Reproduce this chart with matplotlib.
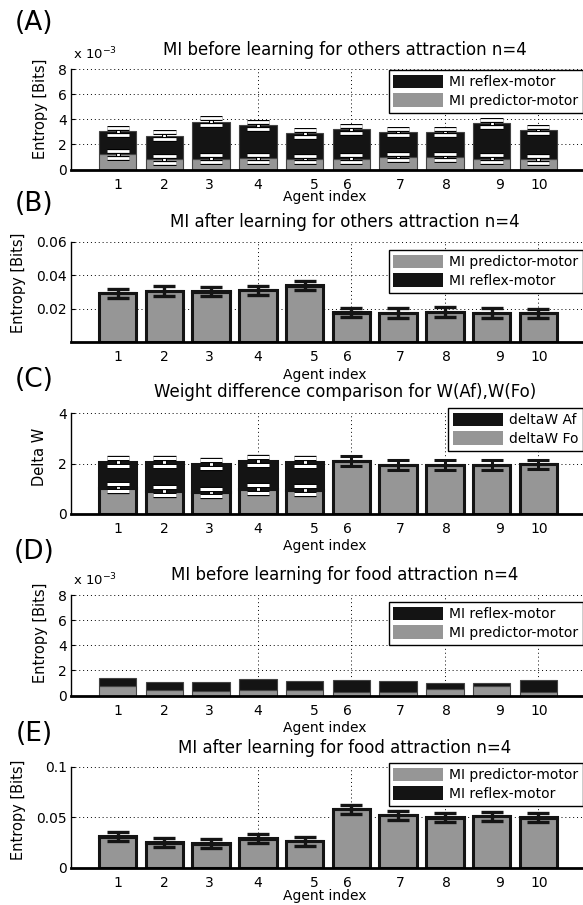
import numpy as np
import matplotlib
matplotlib.use("Agg")
import matplotlib.pyplot as plt
import matplotlib.patheffects as pe
from matplotlib.patches import Patch

W, H = 583, 905

agents = np.arange(1, 11)
tick_labels = [str(i) for i in agents]
# tick labels are not exactly under the bars in the original
label_shift = [0, 0, -0.03, -0.01, 0.2, -0.08, 0.04, 0.03, 0.18, 0.02]

GREY = "#969696"
BLACK = "#141414"

# (A) MI before learning, others attraction (x 1e-3)
a_pred = [1.20, 0.82, 0.85, 0.90, 0.83, 0.85, 0.99, 0.99, 0.85, 0.80]
a_reflex = [1.84, 1.87, 2.96, 2.62, 2.05, 2.35, 2.00, 2.00, 2.83, 2.35]
a_pred_err = [0.29, 0.27, 0.27, 0.27, 0.27, 0.27, 0.27, 0.27, 0.27, 0.27]
a_reflex_err = [0.29, 0.28, 0.28, 0.28, 0.27, 0.27, 0.27, 0.27, 0.27, 0.27]

# (B) MI after learning, others attraction
b_pred = [0.0292, 0.0305, 0.0300, 0.0310, 0.0337, 0.0176, 0.0173, 0.0180, 0.0173, 0.0171]
b_reflex = [0.0003, 0.0003, 0.0003, 0.0003, 0.0003, 0.0002, 0.0002, 0.0002, 0.0002, 0.0002]
b_pred_err = [0.0027, 0.0028, 0.0027, 0.0027, 0.0027, 0.0028, 0.0028, 0.0028, 0.0028, 0.0028]

# (C) weight difference
c_fo = [1.04, 0.91, 0.85, 0.98, 0.94, 2.10, 1.95, 1.95, 1.95, 1.97]
c_af = [1.03, 1.16, 1.13, 1.13, 1.14, 0, 0, 0, 0, 0]
c_fo_err = [0.15, 0.15, 0.15, 0.15, 0.15, 0.20, 0.19, 0.19, 0.19, 0.19]
c_af_err = [0.16, 0.16, 0.15, 0.17, 0.16, 0, 0, 0, 0, 0]

# (D) MI before learning, food attraction (x 1e-3)
d_pred = [0.78, 0.40, 0.34, 0.47, 0.45, 0.31, 0.31, 0.53, 0.74, 0.26]
d_reflex = [0.64, 0.70, 0.73, 0.81, 0.73, 0.92, 0.87, 0.49, 0.28, 0.97]

# (E) MI after learning, food attraction
e_pred = [0.0306, 0.0246, 0.0238, 0.0285, 0.0258, 0.0576, 0.0516, 0.0496, 0.0506, 0.0496]
e_reflex = [0.0003, 0.0003, 0.0003, 0.0003, 0.0003, 0.0003, 0.0003, 0.0003, 0.0003, 0.0003]
e_pred_err = [0.0047, 0.0045, 0.0044, 0.0046, 0.0044, 0.0047, 0.0046, 0.0045, 0.0046, 0.0045]


def fx(x):
    return x / W


def fy(y):
    return 1 - y / H


fig = plt.figure(figsize=(W / 100, H / 100), dpi=100)


def make_axes(top, bottom, ylim, yticks, yticklabels):
    ax = fig.add_axes([fx(71), fy(bottom), fx(585) - fx(71), (bottom - top) / H])
    ax.set_xlim(0, 11)
    ax.set_ylim(*ylim)
    ax.set_yticks(yticks)
    ax.set_yticklabels(yticklabels, fontsize=10)
    ax.set_xticks(agents + np.array(label_shift))
    ax.set_xticklabels(tick_labels, fontsize=10)
    ax.set_xticks([2, 4, 6, 8, 10], minor=True)
    ax.tick_params(axis="x", which="both", length=0, pad=6)
    ax.tick_params(axis="y", direction="in", length=3, pad=3)
    ax.grid(True, axis="y", linestyle=(0, (1, 3)), color="k", linewidth=0.7)
    ax.grid(True, axis="x", which="minor", linestyle=(0, (1, 3)), color="k", linewidth=0.7)
    ax.set_axisbelow(True)
    for s in ["top", "right"]:
        ax.spines[s].set_visible(False)
    ax.spines["bottom"].set_linewidth(2)
    ax.spines["left"].set_linewidth(1)
    return ax


def err(ax, x, y, e, color, lw=2):
    eb = ax.errorbar(x, y, yerr=e, fmt="none", ecolor=color, elinewidth=lw,
                     capsize=8, capthick=lw, zorder=5)
    if color == "white":
        effects = [pe.Stroke(linewidth=lw + 1.6, foreground="k"), pe.Normal()]
        for ln in eb.lines[1]:
            ln.set_path_effects(effects)
        for lc in eb.lines[2]:
            lc.set_path_effects(effects)
    return eb


def texts(label, letter, title, title_y, xlab_y, ylab, ylab_x, ylab_y):
    fig.text(fx(34), fy(letter), label, fontsize=19, ha="center", va="center")
    fig.text(fx(345), fy(title_y), title, fontsize=12, ha="center", va="center")
    fig.text(fx(325), fy(xlab_y), "Agent index", fontsize=10, ha="center", va="center")
    fig.text(fx(ylab_x), fy(ylab_y), ylab, fontsize=10.5, ha="center", va="center",
             rotation=90)


def legend(ax, colors, labels, top):
    handles = [Patch(facecolor=c, edgecolor="none") for c in colors]
    ax.legend(handles, labels, loc="upper right", bbox_to_anchor=(fx(583), fy(top)),
              bbox_transform=fig.transFigure, fontsize=10, fancybox=False,
              edgecolor="k", framealpha=1, handlelength=3.6, handleheight=1.1,
              handletextpad=0.4, labelspacing=0.3, borderpad=0.35, borderaxespad=0)


# ---- (A)
axA = make_axes(69.3, 169.5, (0, 8), [0, 2, 4, 6, 8], ["0", "2", "4", "6", "8"])
axA.bar(agents, a_pred, 0.8, color=GREY, edgecolor="#444444", linewidth=0.8)
axA.bar(agents, a_reflex, 0.8, bottom=a_pred, color=BLACK, edgecolor="#444444", linewidth=0.8)
err(axA, agents, a_pred, a_pred_err, "white")
err(axA, agents, np.add(a_pred, a_reflex), a_reflex_err, "white")
legend(axA, [BLACK, GREY], ["MI reflex-motor", "MI predictor-motor"], 70)
fig.text(fx(73), fy(62), r"x 10$^{-3}$", fontsize=9.5, ha="left", va="bottom")
texts("(A)", 23, "MI before learning for others attraction n=4", 50, 197,
      "Entropy [Bits]", 40, 109)

# ---- (B)
axB = make_axes(241.7, 342, (0, 0.06), [0.02, 0.04, 0.06], ["0.02", "0.04", "0.06"])
axB.bar(agents, b_pred, 0.8, color=GREY, edgecolor=BLACK, linewidth=2.2)
axB.bar(agents, b_reflex, 0.8, bottom=b_pred, color=BLACK, edgecolor=BLACK, linewidth=2.2)
err(axB, agents, b_pred, b_pred_err, BLACK, lw=2.4)
legend(axB, [GREY, BLACK], ["MI predictor-motor", "MI reflex-motor"], 250)
texts("(B)", 204, "MI after learning for others attraction n=4", 222, 375,
      "Entropy [Bits]", 19, 283)

# ---- (C)
axC = make_axes(413.3, 513.8, (0, 4), [0, 2, 4], ["0", "2", "4"])
axC.bar(agents, c_fo, 0.8, color=GREY, edgecolor=BLACK, linewidth=2.2)
axC.bar(agents, c_af, 0.8, bottom=c_fo, color=BLACK, edgecolor=BLACK, linewidth=2.2)
for i in range(len(agents)):
    col = "white" if c_af[i] > 0 else BLACK
    err(axC, [agents[i]], [c_fo[i]], [c_fo_err[i]], col, lw=2.2)
    if c_af_err[i] > 0:
        err(axC, [agents[i]], [c_fo[i] + c_af[i]], [c_af_err[i]], "white", lw=2.2)
legend(axC, [BLACK, GREY], ["deltaW Af", "deltaW Fo"], 408)
texts("(C)", 380, "Weight difference comparison for W(Af),W(Fo)", 392, 546,
      "Delta W", 40, 457)

# ---- (D)
axD = make_axes(595, 695.5, (0, 8), [0, 2, 4, 6, 8], ["0", "2", "4", "6", "8"])
axD.bar(agents, d_pred, 0.8, color=GREY, edgecolor="#444444", linewidth=0.8)
axD.bar(agents, d_reflex, 0.8, bottom=d_pred, color=BLACK, edgecolor="#444444", linewidth=0.8)
legend(axD, [BLACK, GREY], ["MI reflex-motor", "MI predictor-motor"], 602)
fig.text(fx(73), fy(588), r"x 10$^{-3}$", fontsize=9.5, ha="left", va="bottom")
texts("(D)", 552, "MI before learning for food attraction n=4", 575, 728,
      "Entropy [Bits]", 40, 633)

# ---- (E)
axE = make_axes(766.7, 867.5, (0, 0.1), [0, 0.05, 0.1], ["0", "0.05", "0.1"])
axE.bar(agents, e_pred, 0.8, color=GREY, edgecolor=BLACK, linewidth=2.2)
axE.bar(agents, e_reflex, 0.8, bottom=e_pred, color=BLACK, edgecolor=BLACK, linewidth=2.2)
err(axE, agents, e_pred, e_pred_err, BLACK, lw=2.4)
legend(axE, [GREY, BLACK], ["MI predictor-motor", "MI reflex-motor"], 763)
texts("(E)", 734, "MI after learning for food attraction n=4", 748, 896,
      "Entropy [Bits]", 19, 810)

fig.savefig("out.png", dpi=100)
